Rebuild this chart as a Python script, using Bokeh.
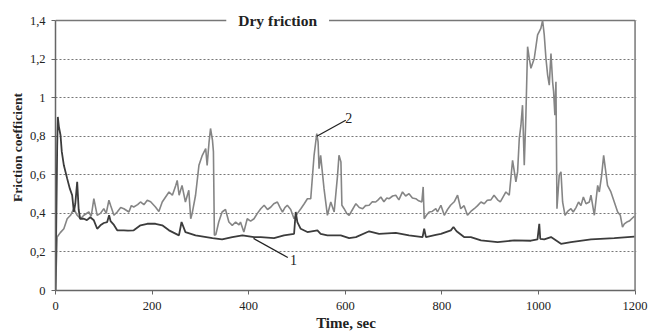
from bokeh.plotting import figure
from bokeh.models import Range1d, FixedTicker, Label
from bokeh.core.properties import value
from bokeh.embed import file_html
from bokeh.resources import INLINE

# ---- data ----
t2 = [0, 3.4, 10, 17.3, 24.2, 31.1, 38, 44.9, 51.8, 58.7, 69, 74, 79.4, 86.3, 93, 100, 105,
      110.6, 114, 121, 127.8, 135, 141.6, 152, 157, 162, 170, 176, 183, 190,
      197, 207, 214, 221, 228, 235, 242, 249, 252, 256, 262, 269, 276, 280, 283, 290, 297,
      304, 311, 314, 318, 321, 325, 327, 329, 332, 338, 345, 352, 359, 366, 373, 380,
      383, 390, 397, 404, 411, 418, 425, 432, 439, 446, 452, 459.4, 465, 470, 475, 480, 487,
      494, 501, 508, 515, 521.6, 528.5, 535.4, 541, 543.7, 545.7, 549, 556, 563, 570, 577,
      584, 587, 591, 593, 597.6, 603, 608, 615, 622, 629, 636, 642, 649.4, 656, 663, 668,
      673.6, 680, 686, 691, 698, 704.6, 711, 718.5, 725, 732, 739, 746, 752, 758.5, 761.3,
      763.4, 768, 773.7, 780, 787.5, 791, 798, 805, 811.7, 818, 825.6, 832.5, 839, 846,
      853, 860, 867, 874, 881, 887.7, 894, 901.5, 908, 915.4, 921, 925.7, 932.6, 939.5,
      946.4, 953.3, 956.8, 960.3, 963.7, 967, 970.6, 974, 977.5, 981, 984.4, 991.3, 998.2,
      1005, 1008.6, 1012, 1015.5, 1019, 1022.4, 1025.9, 1029.3, 1031.4, 1034, 1036.2,
      1038.3, 1043, 1046.6, 1050, 1055, 1060.4, 1067.3, 1072, 1077.7, 1083, 1088, 1093,
      1098.4, 1105.3, 1108.7, 1115.7, 1122.6, 1126, 1130.8, 1135, 1143, 1150, 1157, 1164,
      1169.5, 1174, 1177.8, 1183, 1188, 1193, 1198.5]
mu2 = [0.0, 0.277, 0.30, 0.320, 0.372, 0.390, 0.424, 0.390, 0.372, 0.390, 0.407, 0.385, 0.476,
       0.390, 0.40, 0.424, 0.40, 0.468, 0.442, 0.390, 0.407, 0.43, 0.424, 0.407, 0.44, 0.433,
       0.445, 0.459, 0.445, 0.468,
       0.46, 0.433, 0.41, 0.459, 0.485, 0.511, 0.494, 0.545, 0.571, 0.494, 0.545, 0.459, 0.52,
       0.372, 0.40, 0.494, 0.649, 0.701, 0.736, 0.649, 0.771, 0.840, 0.78, 0.72, 0.286, 0.29,
       0.355, 0.407, 0.42, 0.355, 0.338, 0.355, 0.34,
       0.355, 0.303, 0.372, 0.36, 0.372, 0.40, 0.424, 0.442, 0.42, 0.433, 0.45, 0.459, 0.43,
       0.407, 0.43, 0.442, 0.42, 0.372, 0.40, 0.424, 0.45, 0.476, 0.476, 0.701, 0.814, 0.771,
       0.632, 0.701, 0.528, 0.390, 0.459, 0.407, 0.597, 0.701, 0.667, 0.442, 0.424, 0.40,
       0.390, 0.42, 0.450, 0.43, 0.424, 0.44, 0.442, 0.46, 0.459, 0.47, 0.485, 0.46, 0.48,
       0.476, 0.49, 0.494, 0.47, 0.511, 0.49, 0.502, 0.48, 0.476, 0.465, 0.459, 0.537, 0.372,
       0.39, 0.407, 0.41, 0.424, 0.407, 0.442, 0.390, 0.42, 0.442, 0.46, 0.494, 0.424, 0.44,
       0.390, 0.41, 0.424, 0.44, 0.459, 0.45, 0.468, 0.47, 0.494, 0.47, 0.459, 0.48, 0.511,
       0.494, 0.675, 0.563, 0.615, 0.788, 0.857, 0.961, 0.649, 0.909, 1.264, 1.203, 1.152,
       1.203, 1.325, 1.359, 1.40, 1.325, 1.203, 1.117, 1.065, 1.229, 1.082, 1.030, 0.909,
       1.082, 0.424, 0.597, 0.615, 0.459, 0.390, 0.41, 0.424, 0.407, 0.43, 0.459, 0.44,
       0.485, 0.45, 0.459, 0.494, 0.390, 0.545, 0.511, 0.597, 0.701, 0.545, 0.511, 0.459,
       0.407, 0.390, 0.329, 0.345, 0.355, 0.36, 0.372, 0.385, 0.407]

t1 = [0, 3.5, 4.8, 7, 10.4, 13, 17.3, 24.2, 29.7, 34.5, 38, 41, 44.9, 48, 51, 58.7, 65, 72,
      79.4, 86.3, 93, 100, 107, 111, 114, 121, 127.8, 141.6, 150, 162, 176, 190,
      207, 221, 235, 255.6, 261, 269, 290, 325, 345, 366, 387,
      411, 425, 452.5, 473, 494, 497.4, 500.8, 507.7, 521.6, 542.3, 549, 563, 590.6,
      608, 622, 649.4, 670, 704.6, 732, 760, 763.4, 767, 787.5,
      798, 818.6, 824, 829, 832.5, 846, 860, 881, 915.4, 950, 984.4,
      998, 1001.7, 1003.7, 1012, 1026, 1046.6, 1067.3, 1108.7, 1157, 1198.5]
mu1 = [0.0, 0.75, 0.90, 0.85, 0.805, 0.72, 0.649, 0.580, 0.528, 0.494, 0.407, 0.45, 0.563,
       0.42, 0.372, 0.372, 0.365, 0.38, 0.364, 0.320, 0.338, 0.35, 0.355, 0.39, 0.36, 0.34,
       0.312, 0.312, 0.31, 0.312, 0.338, 0.346,
       0.346, 0.338, 0.312, 0.286, 0.355, 0.303, 0.286, 0.272, 0.265, 0.277, 0.286,
       0.277, 0.277, 0.272, 0.286, 0.294, 0.407, 0.355, 0.320, 0.303, 0.312, 0.294, 0.286,
       0.286, 0.272, 0.277, 0.307, 0.294, 0.299, 0.286, 0.277, 0.320, 0.277, 0.289,
       0.294, 0.312, 0.329, 0.312, 0.303, 0.277, 0.277, 0.260, 0.251, 0.260, 0.258,
       0.265, 0.346, 0.268, 0.265, 0.277, 0.242, 0.251, 0.265, 0.272, 0.279]

x_ticks = [0, 200, 400, 600, 800, 1000, 1200]
y_ticks = [0, 0.2, 0.4, 0.6, 0.8, 1.0, 1.2, 1.4]
y_tick_labels = ["0", "0,2", "0,4", "0,6", "0,8", "1", "1,2", "1,4"]

title_text = "Dry friction"
title_x = 460
x_title = "Time, sec"
y_title = "Friction coefficient"

# curve labels and their leader lines
curve_names = ["1", "2"]
name_x = [493, 607]
name_y = [0.156, 0.897]
lead_x0 = [410, 541]
lead_y0 = [0.27, 0.80]
lead_x1 = [481, 601]
lead_y1 = [0.171, 0.883]

SERIF = "Liberation Serif"
TXT = "#222222"
FRAME = "#777777"

x_max, y_max = x_ticks[-1], y_ticks[-1]

p = figure(width=648, height=334, output_backend="svg", toolbar_location=None, title=None,
           x_range=Range1d(0, x_max + 3), y_range=Range1d(0, y_max * 286 / 270),
           min_border_left=55, min_border_right=12, min_border_top=4, min_border_bottom=44)
p.background_fill_color = "white"
p.border_fill_color = "white"
p.outline_line_color = None

# frame lines (top / right) of the chart box
p.segment(x0=[0, x_max], y0=[y_max, 0], x1=[x_max, x_max], y1=[y_max, y_max],
          line_color=FRAME, line_width=1.5, level="underlay")

# axes
for ax in (p.xaxis[0], p.yaxis[0]):
    ax.axis_line_color = "#666666"
    ax.axis_line_width = 1.5
    ax.major_tick_line_color = "#666666"
    ax.major_tick_in = 0
    ax.major_tick_out = 4
    ax.minor_tick_line_color = None
    ax.major_label_text_font = SERIF
    ax.major_label_text_font_size = "12.5px"
    ax.major_label_text_color = TXT
    ax.axis_label_text_font = SERIF
    ax.axis_label_text_font_style = "bold"
    ax.axis_label_text_color = TXT

p.xaxis.ticker = FixedTicker(ticks=x_ticks)
p.yaxis.ticker = FixedTicker(ticks=y_ticks)
p.xaxis.bounds = (0, x_max)
p.yaxis.bounds = (0, y_max)
p.yaxis.major_label_overrides = {v: s for v, s in zip(y_ticks, y_tick_labels)}
p.xaxis.axis_label = x_title
p.yaxis.axis_label = y_title
p.xaxis.axis_label_text_font_size = "15px"
p.yaxis.axis_label_text_font_size = "13.5px"
p.xaxis.major_label_standoff = 7
p.xaxis.axis_label_standoff = 2
p.yaxis.major_label_standoff = 6
p.yaxis.axis_label_standoff = 2

p.xgrid.grid_line_color = None
p.ygrid.grid_line_color = "#777777"
p.ygrid.grid_line_dash = "2 2"
p.ygrid.grid_line_width = 1

# series
p.line(t2, mu2, line_color="#858585", line_width=1.6)
p.line(t1, mu1, line_color="#3c3c3c", line_width=1.8)

# leaders and curve labels
p.segment(x0=lead_x0, y0=lead_y0, x1=lead_x1, y1=lead_y1, line_color="#222222", line_width=1.3)
p.text(x=name_x, y=name_y, text=curve_names, text_font=value(SERIF), text_font_size="14px",
       text_color=TXT, text_align="center", text_baseline="middle")

# title overlaid on the top frame line
p.add_layout(Label(x=title_x, y=y_max, text=title_text, text_align="center", text_baseline="middle",
                   text_font=SERIF, text_font_size="15.5px", text_font_style="bold",
                   text_color=TXT, background_fill_color="white", padding=12, level="overlay"))

open("out.html", "w").write(file_html(p, INLINE))
